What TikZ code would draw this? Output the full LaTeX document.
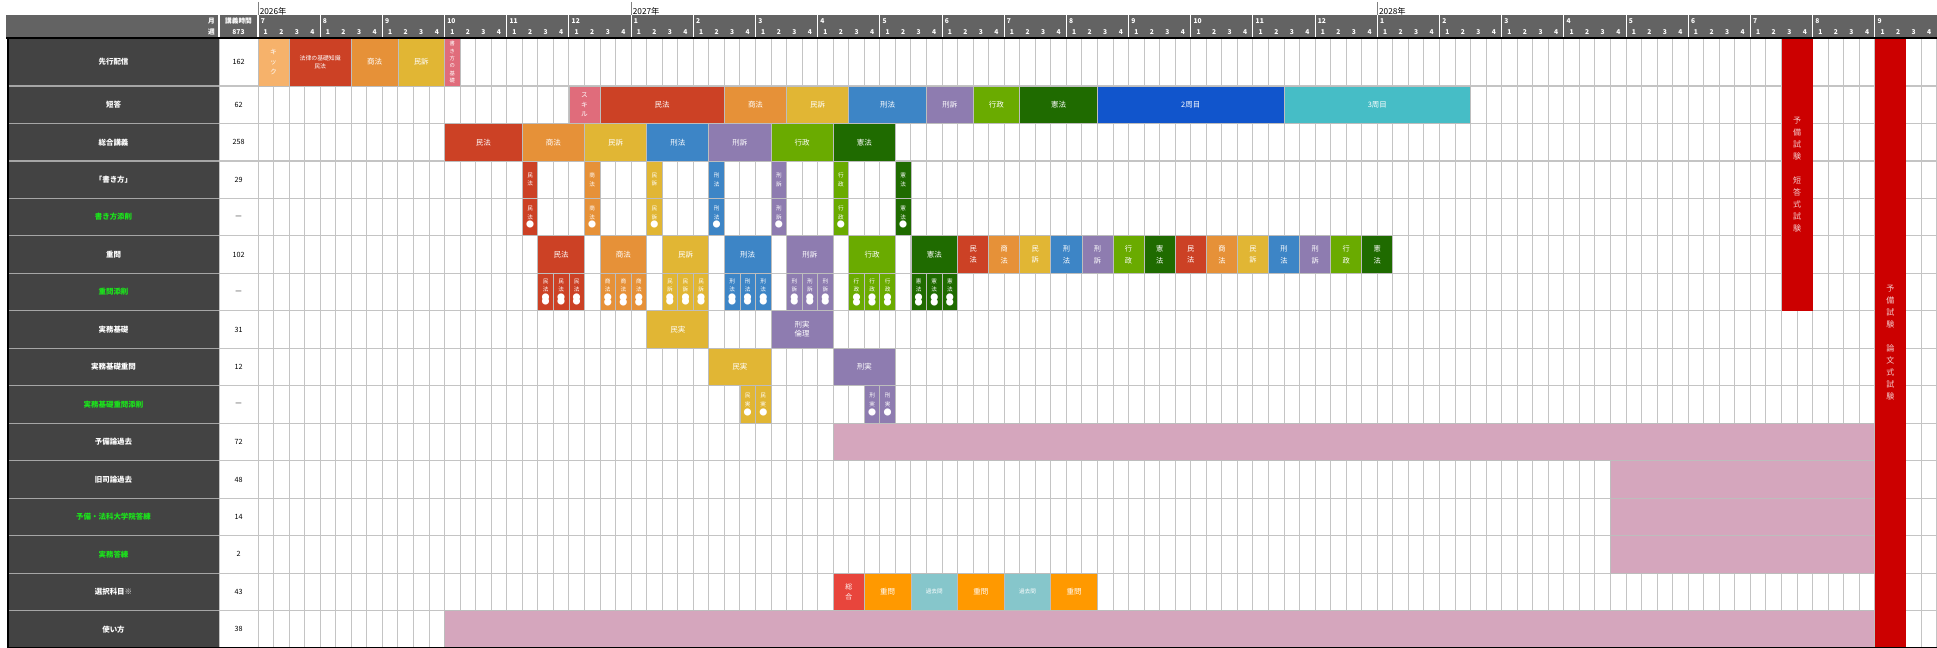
\documentclass[tikz,border=0pt]{standalone}
\usepackage{fontspec}
\setmainfont{Noto Sans CJK JP}
\usepackage{tikz}
\definecolor{headGray}{HTML}{636363}
\definecolor{labelGray}{HTML}{434343}
\definecolor{gridGray}{HTML}{C4C4C4}
\definecolor{barEdge}{HTML}{BDBDBD}
\definecolor{noteGreen}{HTML}{1BE51B}
\definecolor{kickOrange}{HTML}{F6B26B}
\definecolor{minpoRed}{HTML}{CC4125}
\definecolor{shohoOrange}{HTML}{E69138}
\definecolor{minsoYellow}{HTML}{E1B634}
\definecolor{keihoBlue}{HTML}{3D85C6}
\definecolor{keisoPurple}{HTML}{8E7CB0}
\definecolor{gyoseiGreen}{HTML}{6AAB00}
\definecolor{kenpoGreen}{HTML}{1F6B00}
\definecolor{skillPink}{HTML}{E06C7B}
\definecolor{roundBlue}{HTML}{1155CC}
\definecolor{roundTeal}{HTML}{46BDC6}
\definecolor{kakoPink}{HTML}{D5A6BD}
\definecolor{examRed}{HTML}{CC0000}
\definecolor{examText}{HTML}{F4CCCC}
\definecolor{sogoRed}{HTML}{E8453C}
\definecolor{jumonOrange}{HTML}{FF9900}
\definecolor{kakoTeal}{HTML}{86C6CB}

\newcounter{barno}
% one coloured block: [text style]{row}{from week}{to week}{colour}{text}
\newcommand{\kbar}[6][bartext]{%
  \stepcounter{barno}%
  \fill[#5,draw=barEdge,line width=0.6pt] ({wx(#3)},{rt(#2)}) rectangle ({wx(#4)},{rt(#2+1)});
  \node[#1] (bar\arabic{barno}) at ({(wx(#3)+wx(#4))/2},{(rt(#2)+rt(#2+1))/2}) {#6};}
\newcommand{\wdot}{{\fontsize{6}{6}\selectfont ●}}

\begin{document}
\begin{tikzpicture}[x=0.75pt,y=-0.75pt,
    declare function={wx(\t)=258+\t*15.546; rt(\s)=ifthenelse(\s<2,38,86+(\s-2)*37.47);},
    bartext/.style={text=white,align=center,inner sep=0pt,font=\fontsize{5.6}{6.6}\selectfont},
    smalltext/.style={bartext,font=\fontsize{4.4}{5.8}\selectfont},
    tinytext/.style={bartext,font=\fontsize{4.2}{5}\selectfont},
    vtext/.style={bartext,font=\fontsize{5}{7.4}\selectfont},
    tinyv/.style={bartext,font=\fontsize{4}{5.5}\selectfont},
    narrowv/.style={bartext,font=\fontsize{4.2}{6.5}\selectfont},
    sogov/.style={bartext,font=\fontsize{5.2}{7.4}\selectfont},
    jumonv/.style={bartext,font=\fontsize{5.4}{8.6}\selectfont},
    examv/.style={text=examText,align=center,inner sep=0pt,font=\fontsize{6}{9}\selectfont},
    headtext/.style={text=white,inner sep=0pt,font=\fontsize{5}{6}\bfseries\selectfont},
    labeltext/.style={inner sep=0pt,font=\fontsize{5.6}{6.6}\bfseries\selectfont},
    gridline/.style={gridGray,line width=0.75pt}]
  \useasboundingbox (0,0) rectangle (1937,648);

  % header
  \fill[headGray] (6,15) rectangle (1937,38);
  \foreach \x in {219,258}
    \draw[white,line width=0.8pt] (\x,15) -- (\x,38);
  \foreach \m in {1,...,26}
    \draw[white,line width=0.8pt] ({wx(4*\m)},15) -- ({wx(4*\m)},38);
  \foreach \yr/\w in {2026/0,2027/24,2028/72}{
    \draw[gray,line width=0.6pt] ({wx(\w)},2) -- ({wx(\w)},15);
    \node[inner sep=0pt,anchor=south west,font=\fontsize{6.2}{7}\selectfont] (yr\yr) at ({wx(\w)+1.5},15.5) {\yr 年};
  }
  \node[headtext,anchor=east] (hdMonth) at (215,21) {月};
  \node[headtext,anchor=east] (hdWeek) at (215,32) {週};
  \node[headtext] (hdHours) at (238.5,21) {講義時間};
  \node[headtext] (hdTotal) at (238.5,32) {873};
  \foreach \m [count=\k from 0] in {7,8,9,10,11,12,1,2,3,4,5,6,7,8,9,10,11,12,1,2,3,4,5,6,7,8,9}
    \node[headtext,anchor=west] (mo\k) at ({wx(4*\k)+2.5},21) {\m};
  \foreach \w in {0,...,107}{
    \pgfmathtruncatemacro\wk{mod(\w,4)+1}
    \node[headtext] (wk\w) at ({wx(\w+0.5)},32) {\wk};
  }

  % table body
  \fill[labelGray] (8,38) rectangle (219,648);
  \fill[white] (219,38) rectangle (1937,648);
  \foreach \w in {0,...,108}
    \draw[gridline] ({wx(\w)},38) -- ({wx(\w)},648);
  \foreach \r in {2,...,16}{
    \draw[gridline,line width=0.9pt] (219,{rt(\r)}) -- (1937,{rt(\r)});
    \draw[gray!70,line width=0.9pt] (8,{rt(\r)}) -- (219,{rt(\r)});
  }
  \draw[gridline] (219,38) -- (219,648);

  % 先行配信
  \kbar[vtext]{1}{0}{2}{kickOrange}{キ\\ッ\\ク}
  \kbar[smalltext]{1}{2}{6}{minpoRed}{法律の基礎知識\\民法}
  \kbar{1}{6}{9}{shohoOrange}{商法}
  \kbar{1}{9}{12}{minsoYellow}{民訴}
  \kbar[tinyv]{1}{12}{13}{skillPink}{書\\き\\方\\の\\基\\礎}
  % 短答
  \kbar[vtext]{2}{20}{22}{skillPink}{ス\\キ\\ル}
  \kbar{2}{22}{30}{minpoRed}{民法}
  \kbar{2}{30}{34}{shohoOrange}{商法}
  \kbar{2}{34}{38}{minsoYellow}{民訴}
  \kbar{2}{38}{43}{keihoBlue}{刑法}
  \kbar{2}{43}{46}{keisoPurple}{刑訴}
  \kbar{2}{46}{49}{gyoseiGreen}{行政}
  \kbar{2}{49}{54}{kenpoGreen}{憲法}
  \kbar{2}{54}{66}{roundBlue}{2周目}
  \kbar{2}{66}{78}{roundTeal}{3周目}
  % 総合講義, 「書き方」, 書き方添削
  \foreach \w/\e/\c/\a/\b in {12/17/minpoRed/民/法,17/21/shohoOrange/商/法,21/25/minsoYellow/民/訴,
      25/29/keihoBlue/刑/法,29/33/keisoPurple/刑/訴,33/37/gyoseiGreen/行/政,37/41/kenpoGreen/憲/法}{
    \kbar{3}{\w}{\e}{\c}{\a\b}
    \kbar[narrowv]{4}{\e}{\e+1}{\c}{\a\\\b}
    \kbar[narrowv]{5}{\e}{\e+1}{\c}{\a\\\b\\\wdot}
  }
  % 重問, 重問添削
  \foreach \w/\c/\a/\b in {18/minpoRed/民/法,22/shohoOrange/商/法,26/minsoYellow/民/訴,
      30/keihoBlue/刑/法,34/keisoPurple/刑/訴,38/gyoseiGreen/行/政,42/kenpoGreen/憲/法}{
    \kbar{6}{\w}{\w+3}{\c}{\a\b}
    \foreach \k in {0,1,2}{
      \kbar[narrowv]{7}{\w+\k}{\w+\k+1}{\c}{\a\\\b\\\wdot\\[-3.2pt]\wdot}
    }
  }
  \foreach \n in {0,1}{
    \foreach \c/\a/\b [count=\i from 0] in {minpoRed/民/法,shohoOrange/商/法,minsoYellow/民/訴,
        keihoBlue/刑/法,keisoPurple/刑/訴,gyoseiGreen/行/政,kenpoGreen/憲/法}{
      \kbar[jumonv]{6}{45+14*\n+2*\i}{47+14*\n+2*\i}{\c}{\a\\\b}
    }
  }
  % 実務基礎
  \kbar{8}{25}{29}{minsoYellow}{民実}
  \kbar{8}{33}{37}{keisoPurple}{刑実\\倫理}
  \kbar{9}{29}{33}{minsoYellow}{民実}
  \kbar{9}{37}{41}{keisoPurple}{刑実}
  \foreach \w/\c/\a in {31/minsoYellow/民,32/minsoYellow/民,39/keisoPurple/刑,40/keisoPurple/刑}{
    \kbar[narrowv]{10}{\w}{\w+1}{\c}{\a\\実\\\wdot}
  }
  % 過去問・答練
  \kbar{11}{37}{104}{kakoPink}{}
  \foreach \r in {12,13,14}{
    \kbar{\r}{87}{104}{kakoPink}{}
  }
  \kbar[sogov]{15}{37}{39}{sogoRed}{総\\合}
  \foreach \w/\c/\txt/\sty in {39/jumonOrange/重問/bartext,42/kakoTeal/過去問/tinytext,
      45/jumonOrange/重問/bartext,48/kakoTeal/過去問/tinytext,51/jumonOrange/重問/bartext}{
    \kbar[\sty]{15}{\w}{\w+3}{\c}{\txt}
  }
  \kbar{16}{12}{104}{kakoPink}{}

  % 試験
  \fill[examRed] ({wx(98)},38) rectangle ({wx(100)},{rt(8)});
  \node[examv] (tanto) at ({wx(99)},{(38+rt(8))/2}) {予\\備\\試\\験\\[9pt]短\\答\\式\\試\\験};
  \fill[examRed] ({wx(104)},38) rectangle ({wx(106)},648);
  \node[examv] (ronbun) at ({wx(105)},343) {予\\備\\試\\験\\[9pt]論\\文\\式\\試\\験};

  % row labels and hours
  \foreach \lab/\col [count=\r] in {先行配信/white,短答/white,総合講義/white,「書き方」/white,
      書き方添削/noteGreen,重問/white,重問添削/noteGreen,実務基礎/white,実務基礎重問/white,
      実務基礎重問添削/noteGreen,予備論過去/white,旧司論過去/white,予備・法科大学院答練/noteGreen,
      実務答練/noteGreen,選択科目※/white,使い方/white}{
    \node[labeltext,text=\col] (lab\r) at (113.5,{(rt(\r)+rt(\r+1))/2}) {\lab};
  }
  \foreach \h [count=\r] in {162,62,258,29,—,102,—,31,12,—,72,48,14,2,43,38}{
    \node[inner sep=0pt,font=\fontsize{5.4}{6}\selectfont] (hrs\r) at (238.5,{(rt(\r)+rt(\r+1))/2}) {\h};
  }

  \draw[black,line width=1.1pt] (6,38) -- (1937,38);
  \draw[black,line width=1pt] (8,38) -- (8,648) -- (1937,648);
\end{tikzpicture}
\end{document}
